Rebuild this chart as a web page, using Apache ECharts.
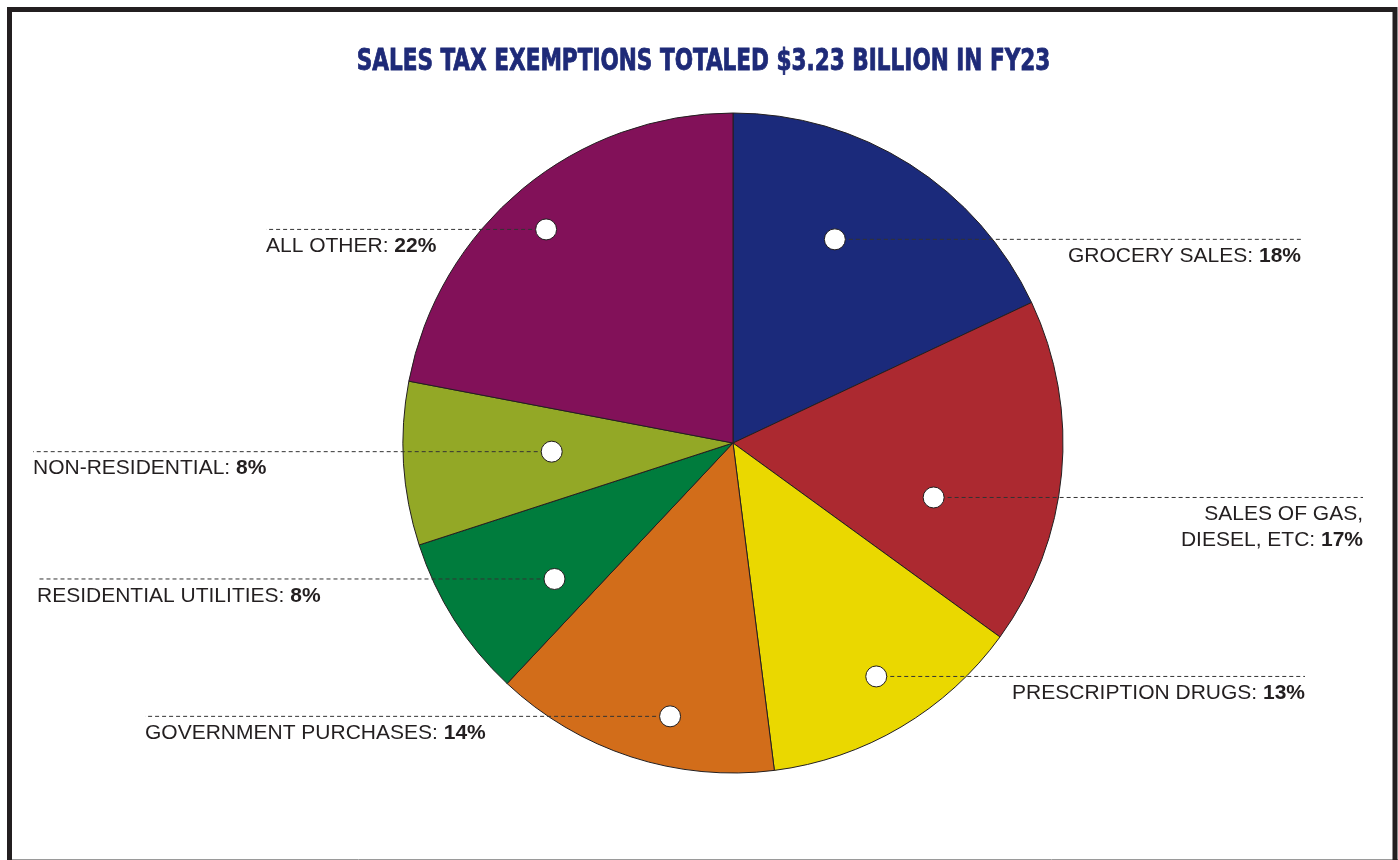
<!DOCTYPE html>
<html>
<head>
<meta charset="utf-8">
<script src="https://cdn.jsdelivr.net/npm/echarts@6/dist/echarts.min.js"></script>
<style>
  html, body { margin: 0; padding: 0; background: #ffffff; }
  #chart { width: 1398px; height: 860px; }
</style>
</head>
<body>
<div id="chart"></div>
<script>
// Slices, clockwise from 12 o'clock
const categories = [
  'GROCERY SALES',
  'SALES OF GAS,\nDIESEL, ETC',
  'PRESCRIPTION DRUGS',
  'GOVERNMENT PURCHASES',
  'RESIDENTIAL UTILITIES',
  'NON-RESIDENTIAL',
  'ALL OTHER'
];
const shares = [18, 17, 13, 14, 8, 8, 22];   // percent of $3.23B
const sliceColors = ['#1b2a7b', '#ac2930', '#ead800', '#d26d1a', '#007c3d', '#93a826', '#821159'];
const titleText = 'SALES TAX EXEMPTIONS TOTALED $3.23 BILLION IN FY23';

// Marker placement inside each slice: [fraction across the slice, fraction of radius]
const markerSpot = [[0.41, 0.69], [0.66, 0.63], [0.48, 0.83], [0.40, 0.85], [0.33, 0.68], [0.53, 0.55], [0.48, 0.86]];
// Horizontal end of each leader line (px)
const leaderEnd = [1301, 1363, 1305, 145, 37, 33, 266];

const CX = 733, CY = 443, R = 330;
const DOT = 21;
const TEXT = '#231f20';
const FONT = "'Liberation Sans', Arial, sans-serif";

// cumulative start of each slice (percent)
const starts = shares.map((_, i) => shares.slice(0, i).reduce((a, b) => a + b, 0));
const markerPct = shares.map((s, i) => starts[i] + markerSpot[i][0] * s);

function markerPixel(i) {
  const a = markerPct[i] / 100 * Math.PI * 2;
  const r = R * markerSpot[i][1];
  return [CX + r * Math.sin(a), CY - r * Math.cos(a)];
}

const sliceData = categories.map((name, i) => ({ name: name, value: shares[i] }));

const chart = echarts.init(document.getElementById('chart'), null, { renderer: 'canvas' });

chart.setOption({
  backgroundColor: '#ffffff',
  animation: false,
  graphic: [
    {
      type: 'text',
      silent: true,
      x: 703.5,
      y: 62.5,
      scaleX: 0.8,
      style: {
        text: titleText,
        fontFamily: "'DejaVu Sans Condensed', 'DejaVu Sans', sans-serif",
        fontWeight: 'bold',
        fontSize: 30,
        fill: '#1e2a78',
        stroke: '#1e2a78',
        lineWidth: 0.8,
        align: 'center',
        verticalAlign: 'middle'
      },
      z: 100
    },
    {
      type: 'rect',
      silent: true,
      shape: { x: 9.5, y: 9.5, width: 1385.5, height: 1000 },
      style: { fill: 'none', stroke: '#231f20', lineWidth: 5 },
      z: 100
    },
    {
      type: 'line',
      silent: true,
      shape: { x1: 12, y1: 859.5, x2: 1398, y2: 859.5 },
      style: { stroke: '#9a9a9a', lineWidth: 1 },
      z: 99
    }
  ],
  polar: { center: [CX, CY], radius: R },
  angleAxis: { type: 'value', min: 0, max: 100, startAngle: 90, clockwise: true, show: false },
  radiusAxis: { type: 'value', min: 0, max: 1, show: false },
  series: [
    {
      // coloured slices
      type: 'pie',
      z: 2,
      center: [CX, CY],
      radius: [0, R],
      startAngle: 90,
      clockwise: true,
      silent: true,
      label: { show: false },
      labelLine: { show: false },
      itemStyle: { borderColor: '#231f20', borderWidth: 1 },
      data: sliceData.map((d, i) => Object.assign({}, d, { itemStyle: { color: sliceColors[i] } }))
    },
    {
      // same slices, invisible, carrying the labels and dashed leaders on top
      type: 'pie',
      z: 5,
      center: [CX, CY],
      radius: [0, R],
      startAngle: 90,
      clockwise: true,
      avoidLabelOverlap: false,
      silent: true,
      itemStyle: { color: 'rgba(0,0,0,0)', borderWidth: 0 },
      data: sliceData,
      label: {
        show: true,
        position: 'outside',
        fontFamily: FONT,
        fontSize: 21,
        lineHeight: 26,
        color: TEXT,
        formatter: function (p) {
          const lines = p.name.split('\n');
          const last = lines.pop();
          const head = lines.map(l => '{n|' + l + '}').join('\n');
          return (head ? head + '\n' : '') + '{n|' + last + ': }{b|' + p.value + '%}';
        },
        rich: {
          n: { fontFamily: FONT, fontSize: 21, lineHeight: 26, color: TEXT },
          b: { fontFamily: FONT, fontSize: 21, lineHeight: 26, color: TEXT, fontWeight: 'bold' }
        }
      },
      labelLine: {
        show: true,
        lineStyle: { color: '#333333', width: 1, type: [4, 3] }
      },
      labelLayout: function (params) {
        const i = params.dataIndex;
        const pt = markerPixel(i);
        const endX = leaderEnd[i];
        const rightSide = endX > pt[0];
        return {
          x: endX,
          y: pt[1] + 4,
          align: rightSide ? 'right' : 'left',
          verticalAlign: 'top',
          labelLinePoints: [[pt[0], pt[1]], [pt[0], pt[1]], [endX, pt[1]]]
        };
      }
    },
    {
      // white markers the leaders start from
      type: 'scatter',
      coordinateSystem: 'polar',
      symbol: 'circle',
      symbolSize: DOT,
      silent: true,
      z: 10,
      itemStyle: { color: '#ffffff', borderColor: '#231f20', borderWidth: 1, opacity: 1 },
      data: categories.map((name, i) => ({
        name: name,
        value: [markerSpot[i][1], markerPct[i]]
      }))
    }
  ]
});
</script>
</body>
</html>
